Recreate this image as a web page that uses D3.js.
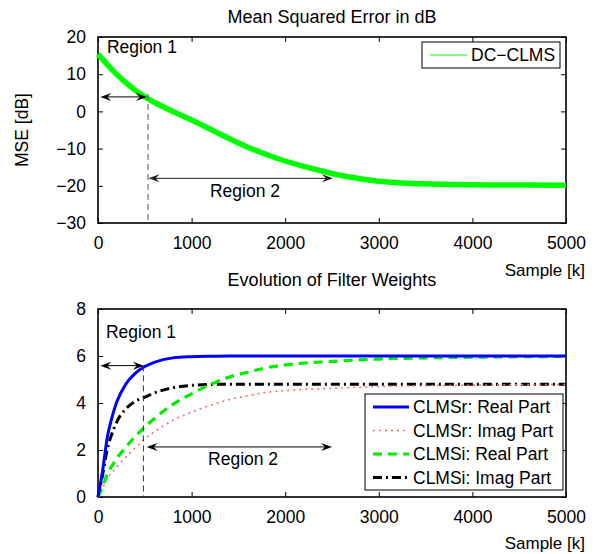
<!DOCTYPE html>
<html><head><meta charset="utf-8">
<script src="https://cdn.jsdelivr.net/npm/d3@7"></script>
<style>
body{margin:0;background:#fff;}
svg{display:block;font-family:"Liberation Sans",Arial,Helvetica,sans-serif;}
</style></head>
<body><svg id="c" width="603" height="554"></svg>
<script>
// ---- data ----
const mseK  = [0,100,200,300,400,500,600,800,1000,1200,1400,1600,1800,2000,2200,2400,2600,2800,3000,3200,3400,3800,4200,4600,5000];
const mseDb = [15.4,12.5,9.9,7.6,5.6,3.9,2.4,-0.05,-2.3,-4.8,-7.3,-9.7,-11.6,-13.4,-14.8,-16.1,-17.3,-18.1,-18.8,-19.2,-19.4,-19.7,-19.8,-19.8,-19.9];

const wK        = [0,50,100,150,200,300,400,500,600,800,1000,1200,1400,1600,1800,2000,2500,3000,3500,4000,4500,5000];
const clmsrReal = [0,1.14,2.55,3.4,4.04,4.82,5.27,5.55,5.73,5.92,5.97,5.99,6,6,6,6,6,6,6,6,6,6];
const clmsrImag = [0,0.38,0.8,1.05,1.28,1.71,2.1,2.48,2.77,3.26,3.61,3.9,4.14,4.31,4.45,4.53,4.62,4.7,4.74,4.76,4.78,4.79];
const clmsiReal = [0,0.44,1.0,1.33,1.64,2.13,2.58,2.98,3.33,3.94,4.39,4.79,5.1,5.31,5.5,5.62,5.77,5.87,5.92,5.95,5.97,5.98];
const clmsiImag = [0,0.95,2.05,2.7,3.19,3.76,4.08,4.25,4.42,4.65,4.75,4.79,4.8,4.8,4.8,4.8,4.8,4.8,4.8,4.8,4.8,4.8];

const xTicks = [0,1000,2000,3000,4000,5000];
const yTicksTop = [-30,-20,-10,0,10,20];
const yTicksBot = [0,2,4,6,8];
const seriesNames = ["CLMSr: Real Part","CLMSr: Imag Part","CLMSi: Real Part","CLMSi: Imag Part"];

// ---- drawing ----
const svg = d3.select("#c");
const FS = 17.5;
const L = 98, R = 566;

function panel(yDomain, yTop, yBot, yTicks, title, titleY, xlabY){
  const x = d3.scaleLinear().domain([0,5000]).range([L,R]);
  const y = d3.scaleLinear().domain(yDomain).range([yBot,yTop]);
  const g = svg.append("g");
  const fmt = d => d3.format("")(d);
  const ax = (axis, tr) => {
    const a = g.append("g").attr("transform", tr).call(axis);
    a.select(".domain").remove();
    a.selectAll("line").attr("stroke","#000").attr("stroke-width",1);
    a.selectAll("text").attr("font-size",FS).attr("fill","#000").attr("font-family",null);
    return a;
  };
  ax(d3.axisBottom(x).tickValues(xTicks).tickSize(-5).tickPadding(14).tickFormat(fmt), `translate(0,${yBot})`);
  ax(d3.axisTop(x).tickValues(xTicks).tickSize(-5).tickFormat(""), `translate(0,${yTop})`);
  ax(d3.axisLeft(y).tickValues(yTicks).tickSize(-5).tickPadding(12).tickFormat(fmt), `translate(${L},0)`);
  ax(d3.axisRight(y).tickValues(yTicks).tickSize(-5).tickFormat(""), `translate(${R},0)`);
  g.append("rect").attr("x",L).attr("y",yTop).attr("width",R-L).attr("height",yBot-yTop)
    .attr("fill","none").attr("stroke","#000").attr("stroke-width",1.6);
  svg.append("text").attr("x",(L+R)/2).attr("y",titleY).attr("text-anchor","middle")
    .attr("font-size",FS+0.5).text(title);
  svg.append("text").attr("x",585).attr("y",xlabY).attr("text-anchor","end")
    .attr("font-size",FS-0.5).text("Sample [k]");
  return {x,y,g};
}

function arrowHead(g, xt, yt, dir, color){
  const len = 11, hw = 4, notch = 7;
  const p = [[xt,yt],[xt-dir*len,yt-hw],[xt-dir*notch,yt],[xt-dir*len,yt+hw]];
  g.append("path").attr("d","M"+p.map(q=>q.join(",")).join("L")+"Z").attr("fill",color);
}
function dblArrow(g, x1, x2, y, color){
  g.append("line").attr("x1",x1+3).attr("x2",x2-3).attr("y1",y).attr("y2",y)
    .attr("stroke",color).attr("stroke-width",1);
  arrowHead(g, x1, y, -1, color);
  arrowHead(g, x2, y, 1, color);
}

// Top panel
const T = panel([-30,20], 37, 223, yTicksTop, "Mean Squared Error in dB", 23, 276);
svg.append("text").attr("transform","translate(28,130) rotate(-90)").attr("text-anchor","middle")
  .attr("font-size",FS).text("MSE [dB]");
const mseData = mseK.map((k,i)=>[k,mseDb[i]]);
T.g.append("path").datum(mseData)
  .attr("d", d3.line().x(d=>T.x(d[0])).y(d=>T.y(d[1])).curve(d3.curveBasis))
  .attr("fill","none").attr("stroke","#00ff00").attr("stroke-width",5.5);
// annotations top
T.g.append("line").attr("x1",T.x(535)).attr("x2",T.x(535)).attr("y1",T.y(4.7)).attr("y2",T.y(-30))
  .attr("stroke","#555").attr("stroke-width",1).attr("stroke-dasharray","6,4");
dblArrow(T.g, T.x(25), T.x(523), T.y(3.9), "#000");
dblArrow(T.g, T.x(540), T.x(2510), T.y(-18), "#222");
svg.append("text").attr("x",T.x(95)).attr("y",T.y(15.7)).attr("font-size",FS).text("Region 1");
svg.append("text").attr("x",T.x(1570)).attr("y",T.y(-22.9)).attr("text-anchor","middle").attr("font-size",FS).text("Region 2");
// legend top
svg.append("rect").attr("x",422).attr("y",42).attr("width",138).attr("height",26)
  .attr("fill","#fff").attr("stroke","#000").attr("stroke-width",1);
svg.append("line").attr("x1",430).attr("x2",467).attr("y1",55).attr("y2",55).attr("stroke","#00ff00").attr("stroke-width",1);
svg.append("text").attr("x",471).attr("y",55).attr("dy","0.36em").attr("font-size",FS).text("DC\u2212CLMS");

// Bottom panel
const B = panel([0,8], 309, 497, yTicksBot, "Evolution of Filter Weights", 286, 549);
const styles = [
  {vals:clmsrReal, color:"#0000ff", w:3, dash:null},
  {vals:clmsrImag, color:"#ff6a6a", w:1.6, dash:"2,4"},
  {vals:clmsiReal, color:"#00ee00", w:3.2, dash:"9,6"},
  {vals:clmsiImag, color:"#000", w:3, dash:"9,4,2,4"},
];
const ln = d3.line().x(d=>B.x(d[0])).y(d=>B.y(d[1])).curve(d3.curveMonotoneX);
[3,1,2,0].forEach(i=>{
  const s = styles[i];
  B.g.append("path").datum(wK.map((k,j)=>[k,s.vals[j]])).attr("d",ln)
    .attr("fill","none").attr("stroke",s.color).attr("stroke-width",s.w)
    .attr("stroke-dasharray",s.dash);
});
// annotations bottom
B.g.append("line").attr("x1",B.x(485)).attr("x2",B.x(485)).attr("y1",B.y(5.6)).attr("y2",B.y(0))
  .attr("stroke","#333").attr("stroke-width",1).attr("stroke-dasharray","6,4");
dblArrow(B.g, B.x(25), B.x(490), B.y(5.59), "#000");
dblArrow(B.g, B.x(520), B.x(2500), B.y(2.13), "#000");
svg.append("text").attr("x",B.x(85)).attr("y",B.y(6.77)).attr("font-size",FS).text("Region 1");
svg.append("text").attr("x",B.x(1550)).attr("y",B.y(1.36)).attr("text-anchor","middle").attr("font-size",FS).text("Region 2");
// legend bottom
svg.append("rect").attr("x",365).attr("y",394).attr("width",198).attr("height",96)
  .attr("fill","#fff").attr("stroke","#000").attr("stroke-width",1);
seriesNames.forEach((n,i)=>{
  const yy = 407 + i*23.5, s = styles[i];
  svg.append("line").attr("x1",373).attr("x2",409).attr("y1",yy).attr("y2",yy)
    .attr("stroke",s.color).attr("stroke-width",s.w).attr("stroke-dasharray",s.dash);
  svg.append("text").attr("x",413).attr("y",yy).attr("dy","0.36em").attr("font-size",FS).text(n);
});
</script></body></html>
